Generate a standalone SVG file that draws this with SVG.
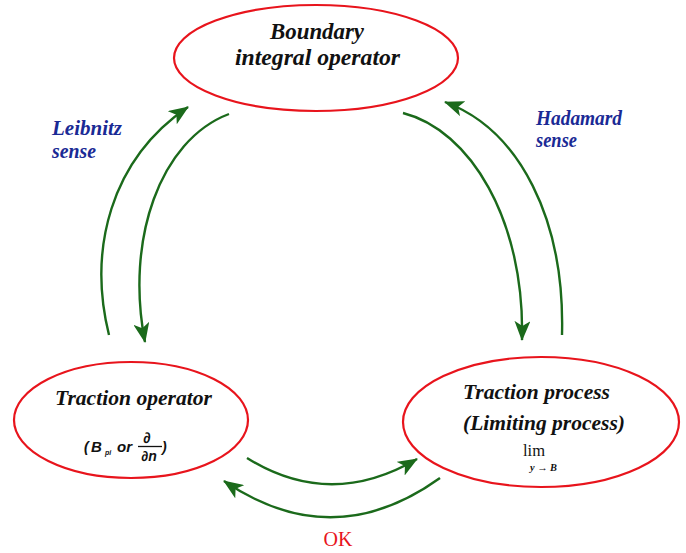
<svg xmlns="http://www.w3.org/2000/svg" width="686" height="553" viewBox="0 0 686 553">
<defs>
<style>
.node{fill:#fff;stroke:#e8141c;stroke-width:2.2}
.conn{fill:none;stroke:#1b6a1b;stroke-width:2.4;marker-end:url(#ah)}
</style>
<marker id="ah" viewBox="0 0 20 16" refX="19" refY="8" markerWidth="20" markerHeight="16" markerUnits="userSpaceOnUse" orient="auto">
<path d="M0,0 L20,8 L0,16 L5,8 z" fill="#1b6a1b"/>
</marker>
</defs>
<rect width="686" height="553" fill="#fff"/>
<g id="connectors">
<path class="conn" d="M109,335 C88,250 110,160 188,107"/>
<path class="conn" d="M229,114 C160,140 125,240 145,342"/>
<path class="conn" d="M403,113 C470,130 525,220 522,340"/>
<path class="conn" d="M562,335 C565,220 520,130 445,102"/>
<path class="conn" d="M247,458 Q330,510 417,459"/>
<path class="conn" d="M440,478 Q333,555 224,481"/>
</g>
<g font-family="Liberation Serif, serif" font-weight="bold" font-style="italic" fill="#111">
<g id="boundary">
<ellipse class="node" cx="316" cy="58" rx="142" ry="53"/>
<text x="270" y="39" font-size="23" textLength="94" lengthAdjust="spacingAndGlyphs">Boundary</text>
<text x="235" y="65" font-size="23" textLength="165" lengthAdjust="spacingAndGlyphs">integral operator</text>
</g>
<g id="traction-operator">
<ellipse class="node" cx="131" cy="420" rx="117" ry="58"/>
<text x="55" y="405" font-size="21" textLength="157" lengthAdjust="spacingAndGlyphs">Traction operator</text>
</g>
<g id="traction-process">
<ellipse class="node" cx="541" cy="422" rx="138" ry="65"/>
<text x="463" y="399" font-size="21" textLength="147" lengthAdjust="spacingAndGlyphs">Traction process</text>
<text x="463" y="430" font-size="21" textLength="162" lengthAdjust="spacingAndGlyphs">(Limiting process)</text>
</g>
</g>
<g id="math" font-family="Liberation Sans, sans-serif" font-weight="bold" font-style="italic" fill="#111">
<text x="84" y="452" font-size="14">(</text>
<text x="91" y="452" font-size="15">B</text>
<text x="105" y="455" font-size="7">pi</text>
<text x="117" y="452" font-size="15">or</text>
<text x="147" y="443" font-size="15" text-anchor="middle" font-style="normal">∂</text>
<line x1="138" y1="446.5" x2="162" y2="446.5" stroke="#111" stroke-width="1.3"/>
<text x="149" y="461" font-size="14" text-anchor="middle">∂n</text>
<text x="162" y="452" font-size="14">)</text>
<text x="534" y="456" font-family="Liberation Serif, serif" font-weight="normal" font-style="normal" font-size="16.5" text-anchor="middle">lim</text>
<text x="530" y="470.5" font-family="Liberation Serif, serif" font-size="9.5" textLength="27" lengthAdjust="spacingAndGlyphs">y → B</text>
</g>
<g id="labels" font-family="Liberation Serif, serif" font-weight="bold" font-style="italic" fill="#1a2a95" font-size="20">
<text x="52" y="135" textLength="70" lengthAdjust="spacingAndGlyphs">Leibnitz</text>
<text x="52" y="158" textLength="44" lengthAdjust="spacingAndGlyphs">sense</text>
<text x="536" y="125" textLength="86" lengthAdjust="spacingAndGlyphs">Hadamard</text>
<text x="536" y="147" textLength="41" lengthAdjust="spacingAndGlyphs">sense</text>
</g>
<text x="338" y="546" font-family="Liberation Serif, serif" font-size="20" fill="#e8141c" text-anchor="middle">OK</text>
</svg>
